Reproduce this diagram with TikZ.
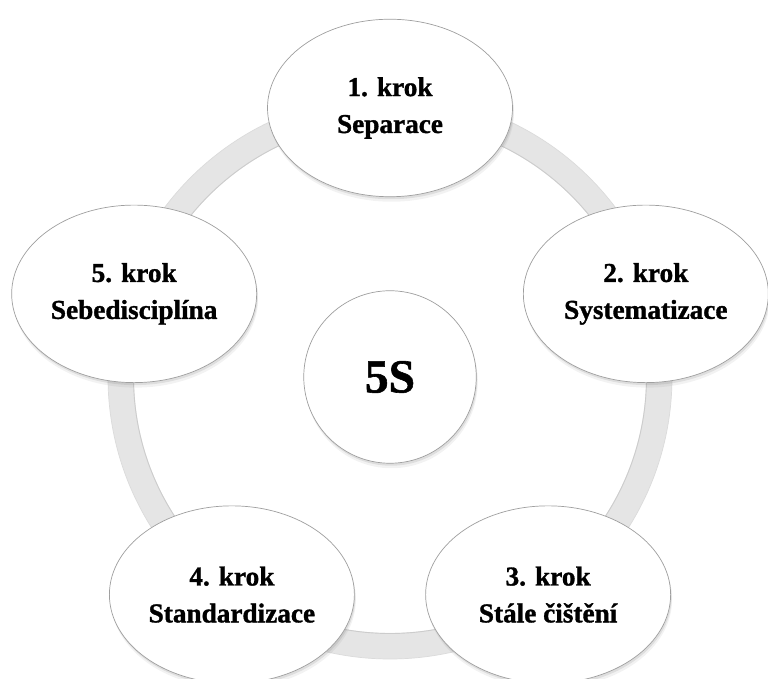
\documentclass[tikz,border=0pt]{standalone}
\usepackage{fontspec}
\setmainfont{Liberation Serif}[BoldFont={Liberation Serif Bold},BoldFeatures={FakeBold=1.2}]
\usetikzlibrary{shapes.geometric,shadows}
\tikzset{
	stin/.style={drop shadow={opacity=0.18, shadow xshift=0.02cm, shadow yshift=-0.05cm},
		drop shadow={opacity=0.1, shadow xshift=0.03cm, shadow yshift=-0.1cm}},
	krok/.style={ellipse, draw=gray!75, fill=white, minimum width=4.9cm, minimum height=3.55cm,
		inner sep=0pt, align=center, font=\bfseries\fontsize{15.5}{21}\selectfont, stin},
	stred/.style={circle, draw=gray!75, fill=white, minimum size=3.45cm, inner sep=0pt,
		font=\bfseries\fontsize{27}{30}\selectfont, stin}
}
\begin{document}
\begin{tikzpicture}
	\useasboundingbox (0,0) rectangle (15.36,13.58);
	\begin{scope}[shift={(7.8,6.04)}]
		% step labels
		\def\kroky {Separace,Systematizace,Stále čištění,Standardizace,Sebedisciplína};
		% radius of the cycle
		\def\radius {5.38};
		% ring behind the steps
		\draw[gray!20, line width=0.52cm] (0,0) circle (\radius);
		\draw[gray!40, line width=0.5pt] (0,0) circle (\radius-0.25);
		\draw[gray!28, line width=0.4pt] (0,0) circle (\radius+0.26);
		% centre
		\node[stred] (stred) at (0,0) {5S};
		% steps
		\foreach \label [count=\index] in \kroky
		{
			\node[krok] (krok_\index) at ({90-(\index-1)*72}:\radius) {\index. krok\\\label};
		}
	\end{scope}
\end{tikzpicture}
\end{document}
